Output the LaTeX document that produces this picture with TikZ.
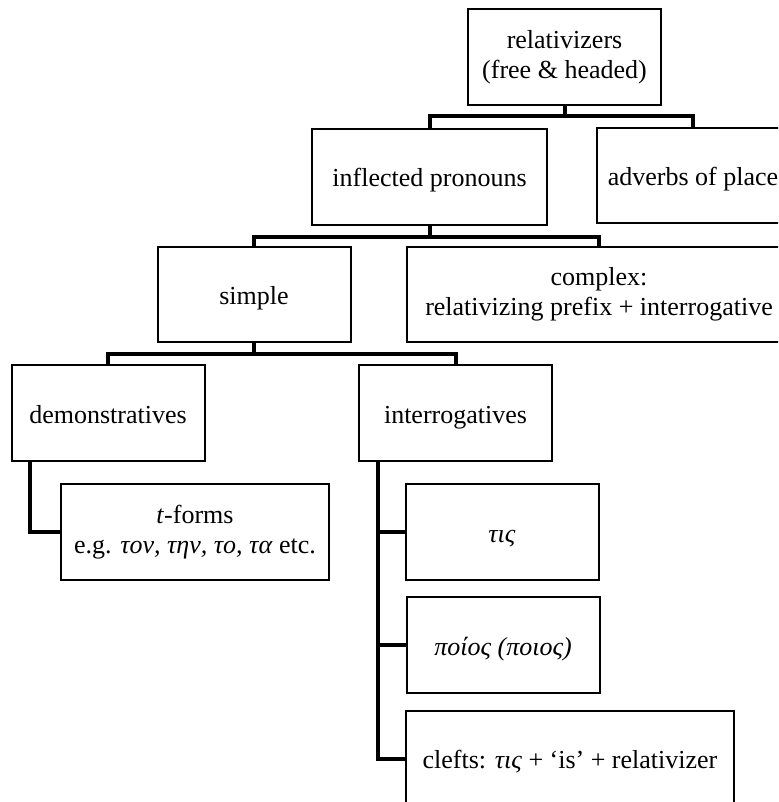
\documentclass[tikz,border=0pt]{standalone}
\usepackage{fontspec}
\setmainfont{Liberation Serif}

\begin{document}
\begin{tikzpicture}[
    x=0.5pt, y=-0.5pt,
    font=\fontsize{13}{15}\selectfont,
    every node/.style={align=center},
    box/.style={rectangle, draw, line width=1pt,
                minimum width=96.5pt, minimum height=48pt,
                inner sep=0pt, align=center},
    single/.style={box, text height=10pt, text depth=0pt},
    link/.style={line width=2pt}
  ]
  \useasboundingbox (0,0) rectangle (778,802);
  \clip (0,0) rectangle (778,802);

  % Top: the root and its two kinds.
  \node[box]                          (root)    at (564.5,57.5) {relativizers\\(free \& headed)};
  \node[single, minimum width=117.5pt](infl)    at (429.5,177)  {inflected pronouns};
  \node[single, minimum height=47.5pt](adv)     at (693,176)    {adverbs of place};

  % Second level: simple vs complex.
  \node[single, minimum height=47.5pt](simple)  at (254,294.5)  {simple};
  \node[box, minimum width=192pt,
        minimum height=47.5pt]        (complex) at (599,294.5)  {complex:\\relativizing prefix + interrogative};

  % Third level.
  \node[single]                       (dem)     at (108,413)    {demonstratives};
  \node[single]                       (interr)  at (455.5,413)  {interrogatives};

  % Leaves.
  \node[box, minimum width=134pt]     (tforms)  at (195,532)    {\textit{t}-forms\\e.g. \textit{τον, την, το, τα} etc.};
  \node[single]                       (tis)     at (502,532)    {\textit{τις}};
  \node[single]                       (poios)   at (503,645)    {\textit{ποίος (ποιος)}};
  \node[single, minimum width=164pt]  (clefts)  at (570,758.5)  {clefts: \textit{τις} + ‘is’ + relativizer};

  % Tree edges.
  \draw[link] (root.south) -- ++(0,10) -| (infl.north);
  \draw[link] (root.south) -- ++(0,10) -| (adv.north);
  \draw[link] (infl.south) -- ++(0,11) -| (simple.north);
  \draw[link] (infl.south) -- ++(0,11) -| (complex.north);
  \draw[link] (simple.south) -- ++(0,11) -| (dem.north);
  \draw[link] (simple.south) -- ++(0,11) -| (interr.north);

  % Side rails down to the leaves.
  \draw[link] ([xshift=9.5pt]dem.south west) |- (tforms.west);
  \draw[link] ([xshift=10pt]interr.south west) |- (clefts.west);
  \draw[link] ([xshift=10pt]interr.south west) |- (tis.west);
  \draw[link] ([xshift=10pt]interr.south west) |- (poios.west);

\end{tikzpicture}
\end{document}
